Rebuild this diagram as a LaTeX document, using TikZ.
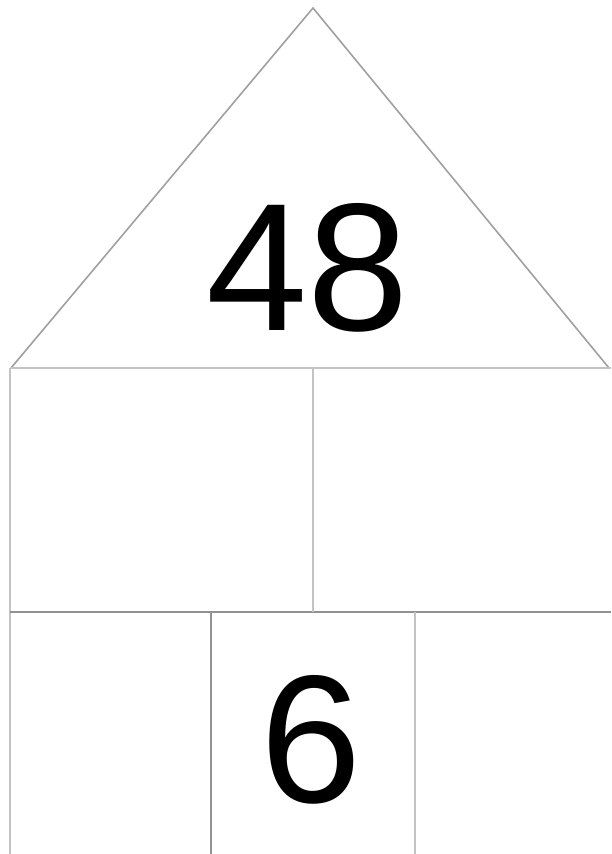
\documentclass[tikz,border=0pt]{standalone}
\usepackage{fontspec}
\setmainfont{Liberation Sans}
\definecolor{hsline}{RGB}{195,195,195}
\definecolor{hsdark}{RGB}{145,145,145}
\definecolor{hsroof}{RGB}{160,160,160}
\usetikzlibrary{positioning}

\begin{document}
\begin{tikzpicture}[x=1pt, y=-1pt,
  wall/.style={draw=hsline, line width=2pt},
  floorline/.style={draw=hsdark, line width=2.4pt},
  roof/.style={draw=hsroof, line width=1.6pt, line join=miter},
  number/.style={inner sep=0pt, font=\fontsize{182}{182}\selectfont, text=black}]
  \useasboundingbox (0,0) rectangle (611,854);

  % roof
  \coordinate (apex) at (313,8);
  \coordinate (eaveL) at (11,368);
  \coordinate (eaveR) at (609,368);
  \draw[roof] (eaveL) -- (apex) -- (eaveR);
  \node[number] (top) at (308,268) {48};

  % walls and floors
  \draw[wall] (eaveL) -- (611,368);
  \draw[wall] (10,368) -- (10,854);
  \draw[floorline] (10,612) -- (611,612);
  \draw[wall] (313,368) -- (313,612);
  \draw[floorline] (211,612) -- (211,854);
  \draw[wall] (415,612) -- (415,854);

  \node[number] (mid) at (311,740) {6};
\end{tikzpicture}
\end{document}
